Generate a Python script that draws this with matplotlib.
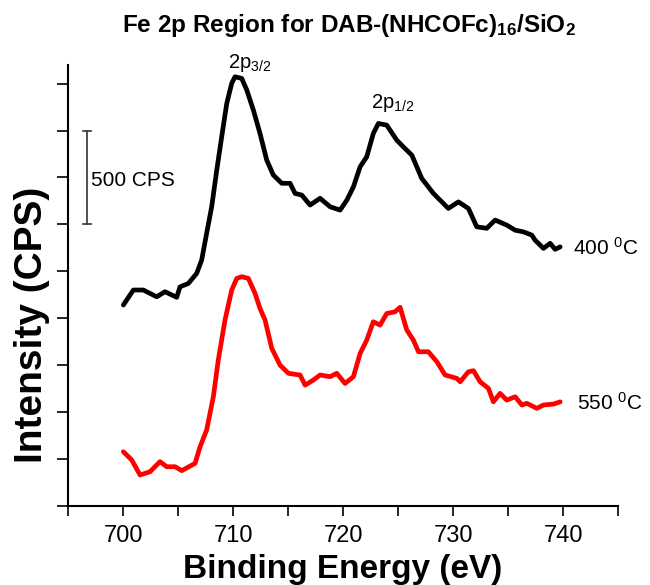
import matplotlib
matplotlib.use("Agg")
import matplotlib.pyplot as plt
import numpy as np

plt.rcParams['font.family'] = ['Liberation Sans', 'DejaVu Sans']
plt.rcParams['mathtext.default'] = 'regular'

# Fe 2p spectra (binding energy in eV, intensity in CPS, stacked with offset)
be_400 = [700.03, 700.94, 701.85, 703.06, 703.82, 704.88, 705.18, 705.94, 706.70, 707.15,
          707.60, 708.06, 708.52, 708.97, 709.43, 709.88, 710.18, 710.79, 711.25, 711.85,
          712.45, 713.06, 713.66, 714.43, 715.18, 715.64, 716.25, 717.00, 717.91, 718.82,
          719.73, 720.34, 720.94, 721.55, 722.15, 722.75, 723.21, 723.97, 724.57, 724.88,
          725.48, 726.25, 727.15, 728.21, 729.57, 730.48, 731.39, 732.15, 733.06, 733.82,
          734.88, 735.64, 736.39, 737.15, 737.45, 738.21, 738.82, 739.27, 739.73]
cps_400 = [1070, 1150, 1150, 1114, 1141, 1111, 1167, 1185, 1239, 1310,
           1452, 1594, 1789, 1967, 2145, 2252, 2287, 2278, 2216, 2109,
           1985, 1843, 1763, 1719, 1719, 1665, 1656, 1603, 1639, 1594,
           1576, 1629, 1700, 1807, 1860, 1985, 2038, 2029, 1976, 1949,
           1913, 1869, 1745, 1665, 1585, 1620, 1585, 1487, 1479, 1523,
           1496, 1469, 1460, 1443, 1416, 1372, 1399, 1367, 1380]

be_550 = [700.03, 700.79, 701.55, 702.45, 703.36, 703.97, 704.73, 705.34, 706.55, 707.00,
          707.60, 708.21, 708.66, 709.27, 709.88, 710.34, 710.79, 711.39, 712.00, 712.45,
          712.91, 713.52, 714.27, 715.03, 716.09, 716.55, 717.30, 717.91, 718.82, 719.43,
          720.18, 720.94, 721.55, 722.15, 722.75, 723.36, 723.97, 724.73, 725.18, 725.79,
          726.39, 726.85, 727.75, 728.52, 729.27, 730.34, 730.64, 731.39, 731.85, 732.45,
          733.21, 733.66, 734.27, 734.88, 735.64, 736.25, 736.70, 737.61, 738.21, 739.12,
          739.73]
cps_550 = [288, 244, 164, 181, 235, 208, 208, 187, 226, 314,
           403, 581, 777, 990, 1150, 1212, 1221, 1212, 1132, 1052,
           990, 839, 750, 706, 697, 643, 670, 697, 688, 706,
           652, 688, 812, 883, 981, 963, 1025, 1034, 1058, 937,
           883, 821, 821, 768, 697, 679, 661, 714, 720, 661,
           626, 554, 599, 563, 581, 537, 546, 519, 537, 542,
           554]

x_ticks = [700, 710, 720, 730, 740]
scale_bar = (1500, 2000)  # 500 CPS

fig = plt.figure(figsize=(6.5, 5.85), dpi=100)
ax = fig.add_axes([0.1046, 0.1355, 0.8464, 0.7535])

ax.plot(be_400, cps_400, color='black', lw=3.4, solid_joinstyle='round', solid_capstyle='round')
ax.plot(be_550, cps_550, color='#ff0000', lw=3.4, solid_joinstyle='round', solid_capstyle='round')

ax.set_xlim(695, 745)
ax.set_ylim(0, 2350)
ax.set_xticks(x_ticks)
ax.set_xticks(np.arange(695, 746, 5), minor=True)
ax.set_yticks(np.arange(0, 2300, 250))
ax.set_yticklabels([])
ax.tick_params(axis='x', which='both', direction='out', length=7, width=1.2, labelsize=17, pad=7)
ax.tick_params(axis='y', which='both', direction='out', length=8, width=1.2)
for side in ('top', 'right'):
    ax.spines[side].set_visible(False)
for side in ('left', 'bottom'):
    ax.spines[side].set_linewidth(1.5)

ax.set_xlabel('Binding Energy (eV)', fontsize=24, fontweight='bold', labelpad=5)
ax.set_ylabel('Intensity (CPS)', fontsize=28, fontweight='bold')
ax.yaxis.set_label_coords(-0.033, 0.41)

# scale bar
xb = 696.7
ax.plot([xb, xb], scale_bar, color='#333333', lw=1.2)
for yb in scale_bar:
    ax.plot([xb - 0.35, xb + 0.35], [yb, yb], color='#333333', lw=1.2)
ax.text(697.1, 1735, '500 CPS', fontsize=15, va='center', ha='left')

# peak labels
ax.text(709.5, 2331, '2p$_{3/2}$', fontsize=14.5, va='baseline', ha='left')
ax.text(722.5, 2119, '2p$_{1/2}$', fontsize=14.5, va='baseline', ha='left')

# temperature labels
ax.text(740.9, 1373, '400 $^{0}$C', fontsize=15, va='center', ha='left', clip_on=False)
ax.text(741.3, 547, '550 $^{0}$C', fontsize=15, va='center', ha='left', clip_on=False)

fig.text(349 / 650, 1 - 32 / 585, 'Fe 2p Region for DAB-(NHCOFc)$_{16}$/SiO$_2$',
         fontsize=17.5, fontweight='bold', ha='center', va='baseline')

fig.savefig('out.png', dpi=100)
